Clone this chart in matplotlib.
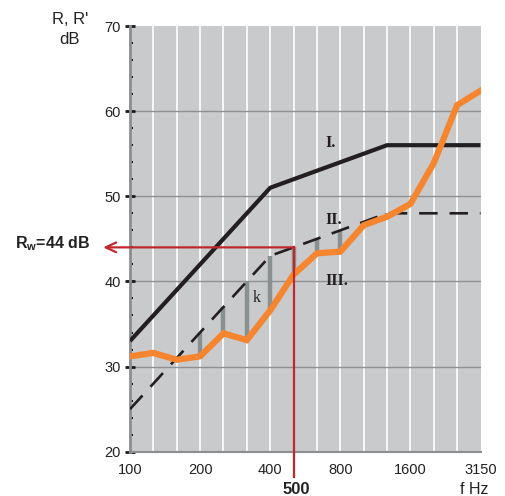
import matplotlib
matplotlib.use("Agg")
import matplotlib.pyplot as plt
import numpy as np

# ---- data ----
freqs = [100, 125, 160, 200, 250, 315, 400, 500, 630, 800, 1000, 1250, 1600, 2000, 2500, 3150]
ref_curve = [33, 36, 39, 42, 45, 48, 51, 52, 53, 54, 55, 56, 56, 56, 56, 56]      # I.
shift_db = 8
shifted_curve = [v - shift_db for v in ref_curve]                                  # II.
measured = [31.2, 31.6, 30.8, 31.2, 33.9, 33.1, 36.6, 40.8, 43.3, 43.5, 46.6, 47.6, 49.1, 53.9, 60.7, 62.4]  # III.
xtick_freqs = [100, 200, 400, 800, 1600, 3150]
ytick_vals = [20, 30, 40, 50, 60, 70]
Rw = 44
Rw_freq = 500

plt.rcParams['font.family'] = ['Liberation Sans', 'DejaVu Sans']
plt.rcParams['mathtext.fontset'] = 'custom'
plt.rcParams['mathtext.rm'] = 'Liberation Sans'
plt.rcParams['mathtext.bf'] = 'Liberation Sans:bold'

W, H = 505, 496
fig = plt.figure(figsize=(W / 100, H / 100), dpi=100)
ax = fig.add_axes([130 / W, 1 - 451.7 / H, (480.5 - 130) / W, (451.7 - 26) / H])

x = np.arange(len(freqs))
ax.set_xlim(0, len(freqs) - 1)
ax.set_ylim(20, 70)
ax.set_facecolor('#c9cacc')

# grid
for xi in x[1:-1]:
    ax.axvline(xi, color='white', lw=1.2, zorder=1)
for yv in ytick_vals[1:-1]:
    ax.axhline(yv, color='#8f9092', lw=1.0, zorder=1)

# spines
for s in ['top', 'right']:
    ax.spines[s].set_visible(False)
ax.spines['left'].set_color('#8c8d8f')
ax.spines['left'].set_linewidth(2)
ax.spines['bottom'].set_color('#8c8d8f')
ax.spines['bottom'].set_linewidth(1.5)

# ticks
ax.set_yticks(ytick_vals)
ax.set_yticks(np.arange(20, 71, 2), minor=True)
ax.tick_params(axis='y', which='major', direction='inout', length=7.5, width=2,
               color='#1a1a1a', labelsize=10.5, pad=3, labelcolor='#222222')
ax.tick_params(axis='y', which='minor', direction='in', length=2.5, width=1.5, color='#1a1a1a')
xt_idx = [freqs.index(f) for f in xtick_freqs]
ax.set_xticks(xt_idx)
ax.set_xticklabels([str(f) for f in xtick_freqs])
ax.tick_params(axis='x', which='both', length=0, labelsize=10.5, pad=8, labelcolor='#222222')

# deficiency bars
shifted_arr = np.array(shifted_curve)
meas_arr = np.array(measured)
mask = shifted_arr > meas_arr
ax.vlines(x[mask], meas_arr[mask], shifted_arr[mask], color='#8a9090', lw=3.2, zorder=2)

# curves
ax.plot(x, ref_curve, color='#231f20', lw=3.0, zorder=3, solid_capstyle='butt')
ax.plot(x, shifted_curve, color='#231f20', lw=1.9, dashes=(7, 4.5), zorder=3)
ax.plot(x, measured, color='#f5862f', lw=4.5, zorder=4, solid_joinstyle='miter')

# Rw construction (red)
ri = freqs.index(Rw_freq)
red = '#c1272d'
ax.plot([ri, ri], [Rw, 17.05], color=red, lw=1.6, zorder=5, clip_on=False)
ax.annotate('', xy=(-1.15, Rw), xytext=(ri, Rw), xycoords='data',
            arrowprops=dict(arrowstyle='->,head_length=0.75,head_width=0.35',
                            color=red, lw=1.6, mutation_scale=10, shrinkA=0, shrinkB=0),
            annotation_clip=False, zorder=5)

# labels on curves
serif = ['Liberation Serif', 'DejaVu Serif']
ax.text(8.57, 56.2, 'I.', family=serif, fontweight='bold', fontsize=11.5,
        ha='center', va='center', color='#231f20', zorder=6)
ax.text(8.7, 47.2, 'II.', family=serif, fontweight='bold', fontsize=11.5,
        ha='center', va='center', color='#231f20', zorder=6)
ax.text(8.85, 40.0, 'III.', family=serif, fontweight='bold', fontsize=11.5,
        ha='center', va='center', color='#231f20', zorder=6)
ax.text(5.43, 38.1, 'k', family=serif, fontsize=11.5,
        ha='center', va='center', color='#231f20', zorder=6)

# outer texts (figure pixels)
def fx(px):
    return px / W
def fy(py):
    return 1 - py / H

fig.text(fx(70), fy(20), "R, R'", ha='center', va='center', fontsize=12, color='#222222')
fig.text(fx(70), fy(40), "dB", ha='center', va='center', fontsize=12, color='#222222')
fig.text(fx(90), fy(244), r'$\mathbf{R_{w}}$' + '=%d dB' % Rw, ha='right', va='center',
         fontsize=11.5, fontweight='bold', color='#222222')
fig.text(fx(296), fy(490), str(Rw_freq), ha='center', va='center', fontsize=12,
         fontweight='bold', color='#222222')
fig.text(fx(474), fy(489), 'f Hz', ha='center', va='center', fontsize=11.5, color='#222222')

fig.savefig('out.png', dpi=100)
